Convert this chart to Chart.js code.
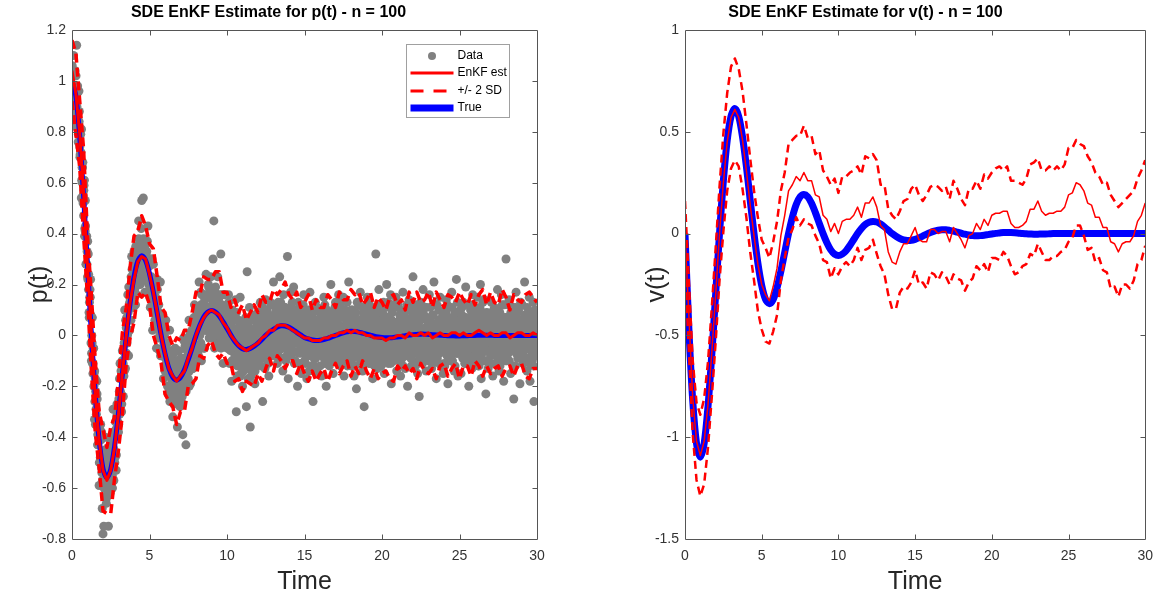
<!DOCTYPE html>
<html lang="en">
<head>
<meta charset="UTF-8">
<title>SDE EnKF Estimate</title>
<script src="https://cdn.jsdelivr.net/npm/chart.js"></script>
<style>
  html, body { margin: 0; padding: 0; background: #fff; }
  #wrap { position: relative; width: 1162px; height: 597px; }
  canvas { position: absolute; top: 0; }
</style>
</head>
<body>
<div id="wrap">
  <canvas id="pChart" width="580" height="597" style="left:0"></canvas>
  <canvas id="vChart" width="582" height="597" style="left:580px"></canvas>
</div>
<script>
// estimates are sampled every 0.25 time units, observations every 0.05
// (three observation runs, shifted slightly in time)
const tMax = 30
const gridStep = 0.25
const dataStep = 0.05
const timeTicks = [0, 5, 10, 15, 20, 25, 30]
const pTicks = [-0.8, -0.6, -0.4, -0.2, 0, 0.2, 0.4, 0.6, 0.8, 1, 1.2]
const vTicks = [-1.5, -1, -0.5, 0, 0.5, 1]

// noisy observations of p(t), run 1 (t = 0, 0.05, ...)
const pData = [
  1.03,0.94,1.10,0.96,1.04,0.82,1.14,0.88,0.76,0.96,0.74,0.81,0.54,0.66,0.68,0.47,0.61,0.41,0.28,0.39,
  0.23,0.32,0.09,0.15,0.22,-0.10,-0.03,-0.15,-0.05,-0.33,-0.17,-0.29,-0.18,-0.43,-0.35,-0.59,-0.37,-0.35,-0.52,-0.68,
  -0.78,-0.75,-0.52,-0.40,-0.63,-0.59,-0.46,-0.75,-0.49,-0.62,-0.41,-0.52,-0.55,-0.29,-0.57,-0.40,-0.34,-0.53,-0.27,-0.35,
  -0.38,-0.22,-0.11,-0.25,-0.30,-0.06,-0.11,-0.16,0.10,-0.13,0.03,-0.03,0.16,-0.08,0.16,0.13,0.06,0.31,0.16,0.29,
  0.33,0.18,0.12,0.34,0.30,0.20,0.45,0.28,0.20,0.36,0.53,0.24,0.54,0.26,0.17,0.37,0.29,0.17,0.43,0.20,
  0.28,0.11,0.30,0.19,0.02,0.28,0.21,0.06,0.15,-0.05,0.22,0.04,0.12,-0.06,0.21,-0.06,-0.01,0.06,-0.17,-0.04,
  -0.14,0.06,-0.14,-0.03,-0.23,-0.12,0.02,-0.23,-0.10,-0.18,-0.32,-0.07,-0.22,-0.05,-0.25,-0.15,-0.36,-0.10,-0.06,-0.20,
  -0.10,-0.26,-0.13,-0.39,-0.01,-0.19,-0.04,-0.43,-0.11,-0.02,-0.17,0.06,-0.10,-0.19,-0.02,0.05,-0.13,-0.04,0.12,-0.07,
  -0.11,0.08,0.05,-0.06,0.21,0.00,0.17,-0.10,0.12,0.06,0.16,-0.05,0.10,0.24,0.02,0.06,0.20,-0.01,0.15,0.23,
  0.08,0.01,0.30,0.45,-0.05,0.17,0.03,0.10,0.23,-0.03,0.15,0.03,0.32,-0.02,0.16,-0.11,0.08,0.16,-0.01,0.02,
  0.12,-0.05,0.16,-0.11,0.03,0.06,-0.18,0.10,-0.04,0.06,-0.11,0.14,-0.30,-0.16,0.01,0.06,-0.10,0.15,-0.15,-0.02,
  -0.20,-0.01,0.03,-0.10,0.07,-0.28,0.25,0.04,-0.13,0.11,-0.36,-0.16,0.01,0.08,-0.12,-0.04,-0.19,0.06,-0.08,0.04,
  0.09,-0.08,-0.04,0.13,-0.12,0.03,-0.26,0.07,0.02,-0.13,0.14,-0.05,0.09,-0.01,-0.16,0.07,0.13,-0.08,0.03,-0.06,
  0.21,0.00,-0.08,0.10,0.04,-0.11,0.13,-0.03,0.23,-0.05,0.08,0.01,-0.14,0.16,-0.01,0.11,-0.10,0.05,0.31,-0.17,
  0.09,-0.05,0.17,0.02,-0.07,0.06,0.19,-0.11,0.10,-0.03,0.03,-0.20,0.13,-0.06,0.01,0.10,-0.15,0.05,-0.03,0.16,
  -0.10,0.02,0.10,-0.17,0.06,-0.04,-0.14,0.17,-0.08,-0.01,0.07,-0.26,0.02,-0.12,0.13,-0.06,0.06,-0.15,0.00,0.10,
  -0.07,0.08,-0.16,0.04,-0.03,0.15,-0.11,0.01,-0.20,0.10,-0.04,0.07,-0.12,0.04,0.20,-0.07,0.00,-0.15,0.09,-0.04,
  0.13,-0.10,0.04,-0.06,0.16,-0.01,-0.12,0.10,-0.07,0.03,0.15,-0.16,0.08,0.00,-0.10,0.13,-0.03,0.21,-0.07,0.05,
  -0.12,0.06,0.10,-0.04,-0.16,0.08,0.01,-0.21,0.13,-0.07,0.05,-0.02,0.17,-0.10,0.03,-0.14,0.09,-0.28,0.11,-0.06,
  0.04,0.15,-0.08,-0.03,0.12,-0.11,0.07,-0.01,-0.17,0.10,0.02,-0.09,0.32,-0.05,-0.13,0.06,0.18,-0.07,0.00,-0.12,
  0.09,-0.04,0.13,-0.15,0.03,-0.08,0.20,-0.02,-0.11,0.07,-0.06,0.16,-0.19,0.01,0.11,-0.10,0.05,-0.03,0.15,-0.14,
  -0.07,0.12,-0.01,0.08,-0.16,0.04,-0.09,0.17,-0.05,0.02,-0.13,0.10,-0.03,-0.20,0.06,0.14,-0.08,0.00,-0.12,0.09,
  0.23,-0.06,0.05,-0.11,0.10,-0.02,-0.15,0.07,-0.24,0.03,0.13,-0.09,0.01,0.18,-0.07,-0.04,0.11,-0.14,0.06,-0.01,
  -0.10,0.16,-0.05,0.02,-0.13,0.08,-0.03,0.21,-0.09,0.04,-0.17,0.12,-0.01,0.06,-0.11,0.15,-0.06,-0.02,0.09,-0.15,
  0.07,-0.12,0.03,0.14,-0.08,-0.19,0.11,-0.04,0.06,-0.01,0.17,-0.10,0.02,-0.14,0.09,-0.05,0.22,-0.07,-0.16,0.05,
  -0.03,0.10,-0.15,0.08,-0.06,0.13,0.01,-0.11,0.19,-0.08,0.04,-0.02,-0.20,0.12,-0.05,0.07,-0.13,0.16,-0.09,0.02,
  0.11,-0.07,-0.01,0.15,-0.12,0.05,-0.04,0.20,-0.17,0.03,0.09,-0.10,0.14,-0.06,-0.23,0.08,0.01,-0.13,0.06,-0.02,
  -0.08,0.13,0.04,-0.16,0.10,-0.03,0.07,-0.11,0.02,0.18,-0.06,-0.14,0.09,-0.01,0.16,-0.09,0.05,-0.18,0.12,-0.04,
  0.30,-0.10,0.03,-0.07,0.14,-0.02,-0.15,0.08,-0.05,0.11,-0.25,0.06,-0.12,0.17,-0.03,0.09,-0.08,0.01,-0.19,0.13,
  -0.06,0.12,-0.11,0.04,0.21,-0.09,0.02,-0.14,0.08,-0.03,0.15,-0.18,0.06,-0.01,-0.10,0.13,-0.26,0.07,-0.05,0.10
]

// run 2 (t = 0.025, 0.075, ...)
const pData2 = [
  1.02,0.95,1.04,0.96,0.88,0.96,0.95,0.84,0.83,0.88,0.71,0.72,0.61,0.66,0.55,0.59,0.42,0.43,0.28,0.33,
  0.22,0.24,0.13,0.15,-0.03,0.00,-0.11,-0.05,-0.15,-0.26,-0.22,-0.31,-0.25,-0.43,-0.40,-0.38,-0.48,-0.41,-0.54,-0.50,
  -0.59,-0.51,-0.57,-0.50,-0.64,-0.55,-0.51,-0.58,-0.48,-0.54,-0.57,-0.48,-0.41,-0.50,-0.45,-0.48,-0.37,-0.32,-0.36,-0.28,
  -0.25,-0.31,-0.22,-0.23,-0.10,-0.16,-0.06,-0.14,-0.03,-0.03,0.07,0.00,0.09,0.02,0.13,0.19,0.14,0.26,0.17,0.22,
  0.22,0.31,0.22,0.29,0.23,0.33,0.30,0.37,0.28,0.33,0.26,0.35,0.29,0.36,0.23,0.31,0.33,0.24,0.27,0.21,
  0.29,0.19,0.23,0.13,0.22,0.15,0.22,0.09,0.11,0.13,0.03,0.12,0.02,0.04,-0.06,0.03,-0.05,0.02,-0.03,-0.12,
  -0.09,-0.05,-0.16,-0.09,-0.07,-0.16,-0.14,-0.22,-0.12,-0.10,-0.19,-0.22,-0.16,-0.13,-0.21,-0.10,-0.18,-0.23,-0.14,-0.17,
  -0.13,-0.21,-0.09,-0.17,-0.14,-0.09,-0.19,-0.11,-0.06,-0.13,-0.07,-0.14,-0.03,-0.07,0.02,-0.08,-0.03,0.01,-0.07,0.06,
  -0.04,0.03,-0.04,0.08,0.05,0.01,0.12,0.04,0.06,0.11,0.02,0.11,0.07,0.15,0.02,0.11,0.06,0.15,0.11,0.06,
  0.12,0.05,0.14,0.09,0.06,0.15,0.08,0.02,0.11,0.13,0.05,0.08,0.00,0.10,0.08,0.01,0.11,0.01,0.04,0.08,
  -0.01,0.08,0.01,0.05,-0.06,0.02,-0.05,0.06,-0.02,-0.04,0.02,-0.08,0.00,-0.05,0.02,-0.07,-0.03,-0.12,-0.01,-0.03,
  -0.01,-0.07,0.01,-0.11,-0.05,-0.02,-0.12,-0.03,-0.06,0.00,-0.09,-0.05,0.01,-0.08,-0.02,-0.10,0.00,-0.05,-0.01,-0.08,
  0.01,-0.07,-0.01,0.04,-0.04,-0.07,0.03,-0.01,-0.04,0.06,-0.01,0.05,-0.04,0.02,-0.07,0.04,0.07,-0.01,0.02,-0.04,
  0.08,0.01,0.03,-0.03,0.06,0.10,-0.01,0.04,0.02,0.07,-0.04,0.05,0.09,0.00,0.03,-0.03,0.05,0.01,0.07,0.04,
  -0.01,0.09,0.02,0.06,-0.03,0.02,0.07,-0.01,0.04,-0.03,0.08,-0.01,0.02,-0.03,0.05,-0.07,0.03,0.00,-0.02,0.06,
  0.00,-0.05,0.04,-0.08,0.00,0.02,-0.03,-0.07,0.05,-0.02,-0.06,0.01,0.04,-0.04,-0.09,-0.01,0.04,-0.04,0.01,-0.02,
  0.04,-0.04,-0.07,0.01,-0.02,-0.08,0.03,0.00,-0.04,0.04,-0.01,-0.06,0.02,0.07,-0.04,0.00,0.03,-0.02,0.05,-0.05,
  -0.03,0.05,0.01,-0.06,0.04,0.00,0.03,-0.03,0.07,-0.01,0.01,0.08,-0.04,0.04,0.00,-0.02,0.07,0.03,-0.04,0.06,
  0.02,-0.06,0.04,0.00,-0.03,0.06,-0.01,-0.05,0.03,0.01,-0.07,0.05,-0.02,0.04,-0.04,0.07,0.00,-0.03,0.02,-0.05,
  -0.01,0.04,-0.05,0.06,-0.02,0.01,-0.06,0.03,0.05,-0.03,0.00,-0.07,0.02,0.06,-0.04,0.01,-0.02,0.05,-0.06,0.03,
  0.05,-0.03,0.00,-0.05,0.07,-0.02,0.03,-0.06,0.01,0.04,-0.01,-0.04,0.06,-0.03,0.02,-0.07,0.04,0.00,-0.02,0.05,
  -0.04,0.02,0.06,-0.01,-0.06,0.03,0.00,-0.03,0.05,-0.05,0.07,0.01,-0.02,0.04,-0.07,0.02,-0.01,0.06,-0.04,0.00,
  0.03,-0.05,0.01,0.04,-0.02,-0.06,0.05,0.00,-0.03,0.06,-0.01,-0.04,0.02,0.07,-0.05,0.01,0.03,-0.06,0.00,0.04,
  -0.02,0.06,-0.04,0.01,-0.07,0.03,0.02,-0.05,0.04,0.00,-0.03,0.05,-0.01,-0.06,0.06,-0.02,0.01,-0.04,0.03,-0.01,
  0.06,-0.01,-0.05,0.03,0.00,-0.04,0.07,-0.03,0.02,-0.06,0.01,0.04,-0.02,0.05,-0.07,0.00,0.03,-0.01,-0.04,0.06,
  -0.05,0.03,0.01,-0.06,0.04,-0.02,0.00,0.06,-0.03,0.02,-0.07,0.05,-0.01,-0.04,0.03,0.01,-0.05,0.06,-0.02,0.00,
  0.02,-0.04,0.06,-0.01,-0.03,0.05,-0.06,0.00,0.04,-0.02,0.01,-0.05,0.07,-0.03,0.02,-0.01,-0.06,0.04,0.00,0.03,
  -0.03,0.01,-0.06,0.04,0.02,-0.04,0.05,-0.01,0.00,-0.07,0.03,0.06,-0.02,-0.05,0.01,0.04,-0.03,0.00,0.07,-0.02,
  0.04,-0.06,0.00,0.03,-0.02,0.06,-0.04,0.01,-0.05,0.02,0.05,-0.01,-0.03,0.07,-0.06,0.00,0.02,-0.04,0.03,-0.01,
  -0.01,0.05,-0.03,-0.06,0.02,0.04,-0.05,0.00,0.06,-0.02,0.01,-0.04,0.03,-0.07,0.05,0.02,-0.01,-0.03,0.06,-0.04
]

// run 3 (t = 0.0125, 0.0625, ...)
const pData3 = [
  1.06,0.91,1.03,0.95,0.85,1.02,0.90,0.98,0.79,0.84,0.70,0.79,0.81,0.60,0.52,0.57,0.39,0.53,0.39,0.28,
  0.37,0.18,0.07,0.18,0.08,-0.07,0.07,-0.11,-0.20,-0.14,-0.35,-0.24,-0.23,-0.39,-0.37,-0.50,-0.38,-0.49,-0.38,-0.57,
  -0.48,-0.60,-0.45,-0.57,-0.66,-0.50,-0.60,-0.44,-0.62,-0.52,-0.46,-0.56,-0.60,-0.44,-0.38,-0.50,-0.39,-0.47,-0.31,-0.34,
  -0.35,-0.17,-0.27,-0.14,-0.27,-0.13,-0.24,-0.03,-0.07,0.06,-0.07,0.06,0.01,0.19,0.02,0.14,0.23,0.11,0.22,0.11,
  0.16,0.28,0.35,0.16,0.31,0.25,0.38,0.21,0.32,0.42,0.25,0.29,0.38,0.22,0.35,0.17,0.31,0.37,0.21,0.27,
  0.15,0.29,0.19,0.30,0.13,0.20,0.04,0.21,0.08,0.11,0.18,-0.01,0.09,0.03,-0.08,0.08,-0.06,0.08,-0.07,0.00,
  0.03,-0.13,-0.03,-0.20,-0.09,-0.15,-0.26,-0.09,-0.06,-0.23,-0.14,-0.27,-0.11,-0.20,-0.06,-0.24,-0.13,-0.25,-0.16,-0.28,
  -0.09,-0.19,-0.24,-0.10,-0.02,-0.20,-0.12,-0.22,-0.03,-0.14,-0.07,-0.20,0.01,-0.09,0.00,-0.13,-0.05,0.07,-0.07,0.03,
  -0.06,0.10,0.00,-0.08,0.08,0.05,-0.03,0.16,0.02,0.10,-0.05,0.14,0.07,0.16,0.02,0.11,0.19,0.04,0.07,0.17,
  0.15,-0.01,0.18,0.06,0.02,0.19,0.11,0.00,0.12,0.07,0.03,0.16,-0.05,0.12,0.07,-0.03,0.16,0.00,0.11,0.01,
  -0.05,0.05,0.13,-0.04,0.00,0.07,-0.10,0.03,-0.04,0.07,-0.08,-0.02,0.09,-0.12,-0.02,-0.08,0.04,-0.16,0.00,-0.07,
  0.01,-0.14,-0.03,0.05,-0.09,-0.13,-0.03,-0.17,0.03,-0.06,0.00,-0.11,0.06,-0.08,-0.12,0.00,-0.14,0.03,-0.02,-0.08,
  -0.10,0.05,0.09,-0.07,0.01,-0.04,0.11,-0.09,0.03,0.07,-0.05,0.10,-0.02,-0.11,0.06,0.02,-0.08,0.12,-0.04,0.04,
  0.07,-0.05,0.12,-0.02,-0.08,0.10,0.03,-0.06,0.05,0.13,-0.03,0.08,-0.09,0.04,0.11,-0.05,0.01,0.09,-0.07,0.06,
  -0.03,0.11,-0.08,0.05,0.13,-0.06,0.02,0.09,-0.10,0.04,-0.02,0.10,-0.07,0.06,-0.11,0.03,0.08,-0.05,0.12,-0.01,
  0.08,-0.11,0.03,0.06,-0.07,0.10,-0.03,0.01,-0.12,0.07,-0.05,0.09,-0.09,0.02,0.05,-0.13,0.11,-0.02,-0.07,0.04,
  -0.12,0.05,0.10,-0.06,0.02,-0.09,0.12,-0.03,0.06,-0.11,0.08,-0.01,0.04,-0.08,0.09,-0.05,-0.10,0.07,0.01,0.11,
  0.04,-0.08,0.11,0.01,-0.11,0.07,-0.04,0.13,-0.02,0.08,-0.09,0.03,0.10,-0.06,0.05,-0.12,0.09,-0.03,0.06,-0.07,
  0.10,-0.03,-0.09,0.07,0.02,-0.12,0.09,-0.05,0.04,-0.08,0.12,0.00,-0.10,0.06,-0.02,0.11,-0.07,0.03,-0.11,0.08,
  -0.09,0.07,0.02,-0.11,0.09,-0.04,0.11,0.01,-0.07,0.05,-0.12,0.08,-0.03,0.10,-0.06,0.03,-0.10,0.12,-0.01,0.06,
  0.02,-0.10,0.08,0.05,-0.06,0.11,-0.09,0.03,0.13,-0.04,0.06,-0.11,0.01,0.09,-0.07,0.12,-0.02,-0.08,0.04,-0.05,
  0.11,-0.03,-0.10,0.06,0.01,-0.07,0.09,-0.12,0.04,0.10,-0.05,0.02,0.12,-0.08,0.03,-0.04,0.11,-0.09,0.07,-0.01,
  -0.07,0.09,-0.02,-0.12,0.06,0.12,-0.04,0.03,-0.09,0.07,-0.06,0.10,-0.11,0.02,0.08,-0.03,-0.08,0.11,-0.05,0.05,
  0.06,-0.08,0.11,-0.04,0.03,-0.11,0.08,0.01,-0.06,0.12,-0.02,-0.09,0.05,0.10,-0.07,0.02,-0.12,0.07,0.04,-0.03,
  -0.11,0.04,0.09,-0.06,0.12,-0.02,-0.08,0.06,-0.10,0.03,0.11,-0.05,0.07,-0.01,-0.12,0.09,-0.04,0.13,-0.07,0.01,
  0.09,-0.06,0.02,0.11,-0.09,0.05,-0.03,-0.11,0.07,0.01,-0.05,0.12,-0.08,0.04,0.10,-0.10,0.03,-0.02,0.08,-0.12,
  -0.04,0.10,-0.09,0.03,0.07,-0.12,0.11,-0.02,0.05,-0.07,0.13,-0.04,0.01,-0.10,0.06,0.09,-0.06,0.02,-0.11,0.08,
  0.05,-0.11,0.08,-0.02,-0.07,0.11,-0.05,0.03,0.10,-0.09,0.01,0.07,-0.12,0.05,-0.03,0.12,-0.08,0.04,-0.01,-0.10,
  -0.08,0.07,-0.04,0.12,-0.10,0.02,0.09,-0.06,0.04,-0.12,0.08,-0.02,0.11,-0.07,0.03,-0.09,0.10,-0.05,0.06,0.01,
  0.12,-0.07,0.03,-0.10,0.08,-0.03,-0.09,0.11,-0.05,0.06,-0.11,0.02,0.09,-0.04,0.07,-0.12,0.04,0.10,-0.08,0.03
]

const pTrue = [
  1.000,0.940,0.778,0.544,0.275,0.006,-0.231,-0.411,-0.524,-0.559,
  -0.526,-0.435,-0.304,-0.154,-0.003,0.129,0.230,0.293,0.313,0.294,
  0.243,0.170,0.086,0.002,-0.072,-0.129,-0.164,-0.175,-0.164,-0.136,
  -0.095,-0.048,-0.001,0.040,0.072,0.091,0.098,0.092,0.076,0.053,
  0.027,0.001,-0.023,-0.040,-0.052,-0.055,-0.051,-0.042,-0.030,
  -0.016,0.000,0.013,0.024,0.033,0.038,0.037,0.032,0.023,0.012,
  0.002,-0.008,-0.014,-0.018,-0.020,-0.019,-0.016,-0.012,-0.006,0.000,
  0.005,0.010,0.014,0.016,0.015,0.013,0.009,0.005,0.001,-0.003,
  -0.006,-0.008,-0.009,-0.009,-0.008,-0.006,-0.004,-0.001,0.001,0.003,
  0.004,0.005,0.005,0.004,0.003,0.002,0.001,0.000,
  -0.001,-0.001,-0.002,-0.002,-0.001,-0.001,0,0,0.001,0.001,0.001,0.001,
  0,0,0,0,0,0,0,0,0,0,0,0
]

const pEst = [
  1.04,0.95,0.79,0.56,0.27,0.01,-0.24,-0.41,-0.53,-0.57,
  -0.53,-0.44,-0.31,-0.15,0.00,0.13,0.22,0.29,0.31,0.30,
  0.24,0.17,0.09,0.00,-0.07,-0.13,-0.16,-0.18,-0.16,-0.14,
  -0.09,-0.05,0.00,0.04,0.07,0.09,0.10,0.09,0.08,0.05,
  0.03,0.00,-0.02,-0.04,-0.05,-0.06,-0.05,-0.04,-0.03,-0.01,
  0.00,0.02,0.02,0.04,0.04,0.04,0.03,0.02,0.01,0.00,
  -0.01,-0.01,-0.02,-0.02,-0.02,-0.01,-0.01,0.00,0.00,0.01,
  0.01,0.02,0.01,0.02,0.01,0.01,0.00,0.00,-0.01,-0.01,
  -0.01,
  -0.02,-0.01,-0.01,0.00,0.00,-0.01,0.01,0.00,0.00,0.01,
  0.00,0.01,-0.01,0.00,0.01,0.00,0.00,0.01,0.01,0.00,
  0.01,0.00,0.00,0.01,0.02,0.01,0.00,0.01,0.00,0.00,
  0.01,0.01,-0.01,0.00,0.01,0.01,0.00,0.00,0.01,0.00
]

// two standard deviations of the ensemble
const pSd2 = [
  0.12,0.16,0.13,0.17,0.12,0.15,0.14,0.11,0.16,0.13,
  0.17,0.12,0.14,0.16,0.11,0.14,0.17,0.12,0.16,0.13,
  0.12,0.17,0.14,0.11,0.16,0.13,0.12,0.17,0.14,0.16,
  0.11,0.14,0.17,0.12,0.16,0.13,0.12,0.16,0.17,0.12,
  0.14,0.11,0.16,0.13,0.17,0.12,0.14,0.16,0.12,0.17,
  0.13,0.11,0.16,0.12,0.14,0.17,0.13,0.12,0.16,0.11,
  0.14,0.17,0.12,0.16,0.13,0.12,0.17,0.14,0.11,0.16,
  0.13,0.12,0.17,0.14,0.16,0.11,0.14,0.17,0.12,0.16,
  0.14,0.12,0.16,0.17,0.12,0.14,0.11,0.16,0.13,0.17,
  0.12,0.14,0.16,0.12,0.17,0.13,0.11,0.16,0.14,0.12,
  0.17,0.13,0.12,0.16,0.11,0.14,0.17,0.12,0.16,0.13,
  0.12,0.17,0.14,0.11,0.16,0.13,0.12,0.16,0.17,0.14,
  0.13
]

const vTrue = [
  0,-0.463,-0.816,-1.030,-1.098,-1.030,-0.849,-0.590,-0.295,0.000,
  0.259,0.457,0.576,0.614,0.576,0.475,0.331,0.165,0.000,-0.145,
  -0.255,-0.323,-0.344,-0.323,-0.266,-0.185,-0.092,0.000,0.081,0.143,
  0.180,0.192,0.181,0.149,0.103,0.051,0.000,-0.045,-0.080,-0.101,
  -0.108,-0.101,-0.084,-0.058,-0.029,0.000,0.025,0.045,0.056,
  0.060,0.057,0.047,0.033,0.017,0.000,-0.013,-0.024,-0.031,-0.034,
  -0.033,-0.028,-0.021,-0.012,-0.003,0.005,0.012,0.017,0.019,0.019,
  0.016,0.012,0.007,0.002,-0.003,-0.007,-0.010,-0.011,-0.010,-0.008,
  -0.005,-0.002,0.001,0.003,0.005,0.005,0.005,0.004,0.002,0.000,
  -0.001,-0.002,-0.003,-0.003,-0.002,-0.002,-0.001,0.000,
  0,0,0,0,0,0,0,0,0,0,0,0,0,0,0,0,0,0,0,0,0,0,0,0
]

const vEst = [
  0.00,-0.40,-0.80,-1.02,-1.09,-1.02,-0.84,-0.58,-0.30,0.00,
  0.25,0.45,0.57,0.61,0.57,0.46,0.31,0.14,-0.01,-0.15,
  -0.25,-0.30,-0.33,-0.26,-0.17,-0.01,0.09,0.21,0.24,0.28,
  0.26,0.30,0.26,0.26,0.19,0.18,0.09,0.07,0.01,0.05,
  0.00,0.06,0.07,0.07,0.09,0.13,0.08,0.15,0.15,0.18,
  0.13,0.04,0.02,-0.09,-0.14,-0.15,-0.09,-0.05,-0.05,-0.01,
  0.03,-0.03,-0.04,-0.04,0.02,0.02,0.00,0.01,0.01,-0.04,
  0.03,0.00,-0.03,-0.07,-0.01,0.00,0.05,0.02,0.07,0.04,
  0.09,0.10,0.10,0.11,0.11,0.05,0.03,0.03,0.04,0.06,
  0.12,0.12,0.16,0.11,0.09,0.10,0.10,0.11,0.11,0.13,
  0.19,0.20,0.25,0.24,0.21,0.15,0.14,0.08,0.08,0.03,
  0.03,-0.04,-0.05,-0.09,-0.05,-0.04,-0.04,-0.01,0.06,0.09,
  0.15
]

const vSd2 = [
  0.16,0.17,0.18,0.19,0.20,0.21,0.21,0.22,0.23,0.23,
  0.24,0.24,0.25,0.25,0.24,0.24,0.23,0.23,0.22,0.23,
  0.22,0.23,0.21,0.22,0.23,0.22,0.21,0.23,0.22,0.20,
  0.22,0.23,0.21,0.22,0.20,0.23,0.22,0.21,0.23,0.22,
  0.20,0.22,0.21,0.23,0.22,0.20,0.21,0.23,0.22,0.21,
  0.23,0.20,0.22,0.21,0.23,0.22,0.20,0.21,0.22,0.23,
  0.21,0.22,0.20,0.23,0.21,0.22,0.23,0.20,0.22,0.21,
  0.23,0.22,0.20,0.21,0.23,0.22,0.21,0.20,0.22,0.23,
  0.21,0.22,0.23,0.20,0.22,0.21,0.23,0.22,0.20,0.21,
  0.22,0.23,0.21,0.20,0.22,0.23,0.21,0.22,0.20,0.21,
  0.23,0.22,0.21,0.20,0.22,0.23,0.21,0.22,0.20,0.21,
  0.22,0.23,0.21,0.22,0.20,0.21,0.23,0.22,0.21,0.22,
  0.21
]

const nGrid = Math.round(tMax / gridStep) + 1
const checks = {pTrue, pEst, pSd2, vTrue, vEst, vSd2}
for (const k in checks) {
  if (checks[k].length !== nGrid) throw new Error(k + ' has ' + checks[k].length + ' values, expected ' + nGrid)
}
if (pData.length !== 600 || pData2.length !== 600 || pData3.length !== 600) {
  throw new Error('data runs: ' + pData.length + ' / ' + pData2.length + ' / ' + pData3.length)
}

const fontFamily = "'Liberation Sans', Arial, Helvetica, sans-serif"
const red = '#ff0000'
const blue = '#0000ff'
const gray = '#808080'

function onGrid(values, step, offset) {
  const t0 = offset || 0
  return values.map((y, i) => ({x: Math.round((t0 + i * step) * 10000) / 10000, y: y}))
}
function band(est, sd2, sign) {
  return est.map((y, i) => ({x: i * gridStep, y: y + sign * sd2[i]}))
}
function fmt(v) {
  return String(Math.round(v * 10) / 10)
}

// matlab style box with inward ticks on all four sides
const axesFrame = {
  id: 'axesFrame',
  afterDatasetsDraw(chart) {
    const {ctx, chartArea: a, scales: {x, y}} = chart
    const L = Math.round(a.left) + 0.5, R = Math.round(a.right) + 0.5
    const T = Math.round(a.top) + 0.5, B = Math.round(a.bottom) + 0.5
    ctx.save()
    ctx.strokeStyle = '#555'
    ctx.lineWidth = 1
    ctx.beginPath()
    ctx.rect(L, T, R - L, B - T)
    x.ticks.forEach(t => {
      if (t.value === x.min || t.value === x.max) return
      const px = Math.round(x.getPixelForValue(t.value)) + 0.5
      ctx.moveTo(px, B); ctx.lineTo(px, B - 5)
      ctx.moveTo(px, T); ctx.lineTo(px, T + 5)
    })
    y.ticks.forEach(t => {
      if (t.value === y.min || t.value === y.max) return
      const py = Math.round(y.getPixelForValue(t.value)) + 0.5
      ctx.moveTo(L, py); ctx.lineTo(L + 5, py)
      ctx.moveTo(R, py); ctx.lineTo(R - 5, py)
    })
    ctx.stroke()
    ctx.restore()
  }
}

const legendBox = {
  id: 'legendBox',
  afterDraw(chart) {
    const {ctx, chartArea: a} = chart
    const w = 103, h = 73
    const left = Math.round(a.right) - 28 - w + 0.5
    const top = Math.round(a.top) + 14 + 0.5
    ctx.save()
    ctx.fillStyle = '#fff'
    ctx.fillRect(left, top, w, h)
    ctx.strokeStyle = '#a0a0a0'
    ctx.lineWidth = 1
    ctx.strokeRect(left, top, w, h)
    const rows = chart.data.datasets.filter(d => d.inLegend)
    rows.forEach((d, i) => {
      const cy = Math.round(top + 11.5 + i * 17.3)
      const x0 = left + 4, x1 = left + 47
      if (d.showLine) {
        ctx.beginPath()
        ctx.setLineDash(d.borderDash ? [13, 10] : [])
        ctx.lineWidth = d.legendWidth
        ctx.strokeStyle = d.borderColor
        ctx.moveTo(x0, cy)
        ctx.lineTo(x1, cy)
        ctx.stroke()
        ctx.setLineDash([])
      } else {
        ctx.beginPath()
        ctx.fillStyle = d.backgroundColor
        ctx.arc((x0 + x1) / 2, cy, 4, 0, 2 * Math.PI)
        ctx.fill()
      }
      ctx.fillStyle = '#000'
      ctx.font = '12px ' + fontFamily
      ctx.textBaseline = 'middle'
      ctx.textAlign = 'left'
      ctx.fillText(d.label, left + 51, cy)
    })
    ctx.restore()
  }
}

function lineSet(label, data, color, width, extra) {
  return Object.assign({
    label: label, data: data, showLine: true, borderColor: color, backgroundColor: color,
    borderWidth: width, pointRadius: 0, tension: 0, borderJoinStyle: 'round'
  }, extra)
}

function makeChart(id, o) {
  return new Chart(document.getElementById(id), {
    type: 'scatter',
    data: {datasets: o.datasets},
    options: {
      responsive: false,
      animation: false,
      events: [],
      devicePixelRatio: 1,
      layout: {padding: {top: 0, right: o.padRight, bottom: 0, left: 0}},
      plugins: {
        legend: {display: false},
        tooltip: {enabled: false},
        title: {
          display: true, text: o.title, color: '#000',
          font: {family: fontFamily, size: 16, weight: 'bold', lineHeight: 1.2},
          padding: {top: 3.4, bottom: 7.4}
        }
      },
      scales: {
        x: {
          type: 'linear', min: 0, max: tMax,
          grid: {display: false, drawTicks: false},
          border: {display: false},
          afterBuildTicks: s => { s.ticks = timeTicks.map(v => ({value: v})) },
          afterFit: s => { s.height = 58 },
          ticks: {padding: 9, color: '#333', font: {family: fontFamily, size: 14}, callback: fmt, maxRotation: 0, autoSkip: false},
          title: {display: true, text: 'Time', color: '#262626', font: {family: fontFamily, size: 25, lineHeight: 1.2}, padding: {top: 0, bottom: 0}}
        },
        y: {
          type: 'linear', min: o.ticks[0], max: o.ticks[o.ticks.length - 1],
          grid: {display: false, drawTicks: false},
          border: {display: false},
          afterBuildTicks: s => { s.ticks = o.ticks.map(v => ({value: v})) },
          afterFit: s => { s.width = o.axisWidth },
          ticks: {padding: 6, color: '#333', font: {family: fontFamily, size: 14}, callback: fmt, autoSkip: false},
          title: {display: true, text: o.yTitle, color: '#262626', font: {family: fontFamily, size: 25, lineHeight: 1.2}, padding: {top: o.yTitlePad, bottom: 0}}
        }
      }
    },
    plugins: [axesFrame].concat(o.extra || [])
  })
}

const allData = onGrid(pData, dataStep)
  .concat(onGrid(pData2, dataStep, dataStep / 2))
  .concat(onGrid(pData3, dataStep, dataStep / 4))

makeChart('pChart', {
  title: 'SDE EnKF Estimate for p(t) - n = 100',
  yTitle: 'p(t)',
  ticks: pTicks,
  axisWidth: 72,
  yTitlePad: 25,
  padRight: 43,
  extra: [legendBox],
  datasets: [
    {label: 'Data', data: allData,
     pointRadius: 4.5, pointBorderWidth: 0, backgroundColor: gray, pointBackgroundColor: gray,
     borderColor: gray, showLine: false, order: 5, inLegend: true},
    lineSet('EnKF est', onGrid(pEst, gridStep), red, 3, {order: 2, inLegend: true, legendWidth: 3}),
    lineSet('+/- 2 SD', band(pEst, pSd2, 1), red, 3.5, {borderDash: [9, 5], order: 1, inLegend: true, legendWidth: 3}),
    lineSet('+/- 2 SD', band(pEst, pSd2, -1), red, 3.5, {borderDash: [9, 5], order: 1}),
    lineSet('True', onGrid(pTrue, gridStep), blue, 5, {tension: 0.3, order: 4, inLegend: true, legendWidth: 7})
  ]
})

makeChart('vChart', {
  title: 'SDE EnKF Estimate for v(t) - n = 100',
  yTitle: 'v(t)',
  ticks: vTicks,
  axisWidth: 105,
  yTitlePad: 62,
  padRight: 11,
  datasets: [
    lineSet('EnKF est', onGrid(vEst, gridStep), red, 1.5, {order: 2}),
    lineSet('+/- 2 SD', band(vEst, vSd2, 1), red, 2.5, {borderDash: [8, 5], order: 1}),
    lineSet('+/- 2 SD', band(vEst, vSd2, -1), red, 2.5, {borderDash: [8, 5], order: 1}),
    lineSet('True', onGrid(vTrue, gridStep), blue, 7, {tension: 0.3, order: 4})
  ]
})
</script>
</body>
</html>
